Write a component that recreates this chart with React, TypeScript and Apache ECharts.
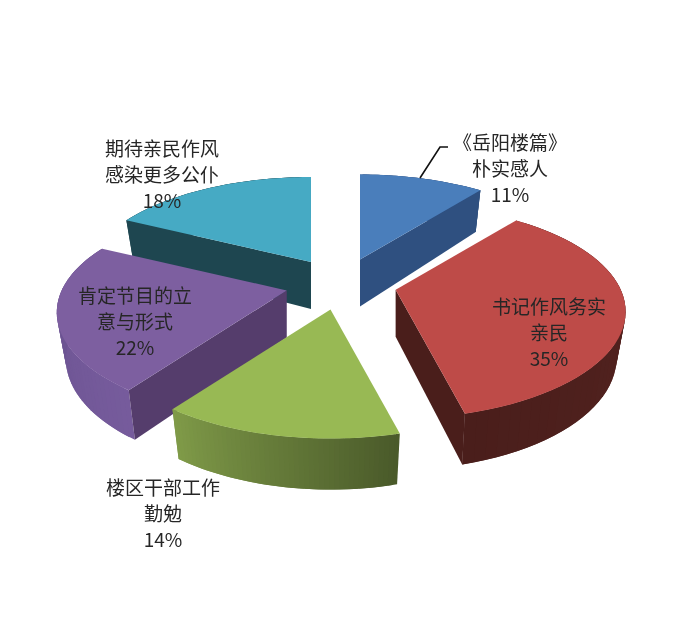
import React, { useEffect, useRef } from "react";
import * as echarts from "echarts";

const categories = ["《岳阳楼篇》\n朴实感人", "书记作风务实\n亲民", "楼区干部工作\n勤勉", "肯定节目的立\n意与形式", "期待亲民作风\n感染更多公仆"];
const shares = [11, 35, 14, 22, 18];

const topColors = ["#4a7ebb", "#be4b48", "#98b954", "#7d5fa0", "#46aac4"];
const sideColors = ["#2f5080", "#4a1e1b", "#4a5a2a", "#553d6c", "#1e4650"];
const rimColors = [
  ["#2f5080", "#2f5080"],
  ["#5a2623", "#4a1e1b"],
  ["#4a5a2a", "#7f9a48"],
  ["#765b9c", "#66508c"],
  ["#1e4650", "#1e4650"],
];
const paintOrder = [0, 4, 1, 3, 2];
const labelCenters = [
  [510, 167],
  [549, 331],
  [163, 512],
  [135, 320],
  [162, 173],
];

const CX = 341;
const CY = 284;
const EX = 56;
const EY = 26;
const TOP_RX = 230;
const TOP_RY = 107;
const TOP_DY = 22;
const BOTTOM_RX = 221;
const BOTTOM_RY = 112;
const BOTTOM_DY = 68;
const APEX_DEPTH = 47;

function warp(a: number) {
  return a - 0.22 * Math.sin(a);
}

function renderSlice(params: any, api: any) {
  const i = params.dataIndex;
  const total = shares.reduce((p, v) => p + v, 0);
  const before = shares.slice(0, i).reduce((p, v) => p + v, 0);
  const a0 = (before / total) * Math.PI * 2;
  const a1 = ((before + api.value(0)) / total) * Math.PI * 2;
  const mid = (a0 + a1) / 2;
  const ax = CX + EX * Math.sin(mid);
  const ay = CY - EY * Math.cos(mid);

  const steps = 48;
  const tops: number[][] = [];
  const bottoms: number[][] = [];
  for (let k = 0; k <= steps; k++) {
    const f = warp(a0 + ((a1 - a0) * k) / steps);
    const s = Math.sin(f);
    const c = Math.cos(f);
    tops.push([ax + TOP_RX * s, ay + TOP_DY - TOP_RY * c]);
    bottoms.push([ax + BOTTOM_RX * s, ay + BOTTOM_DY - BOTTOM_RY * c]);
  }
  const base = paintOrder.indexOf(i) * 10;
  const children: any[] = [];
  for (let k = 0; k < steps; k++) {
    const color = echarts.color.lerp(k / (steps - 1), rimColors[i]);
    // Each strip reaches over the next one so no seam shows between them.
    const next = Math.min(k + 2, steps);
    children.push({
      type: "polygon",
      z2: base,
      shape: { points: [tops[k], tops[next], bottoms[next], bottoms[k]] },
      style: { fill: color },
    });
  }
  const sideFace = (k: number, a: number, dir: number) => {
    if (Math.cos(a + (dir * Math.PI) / 2) > -0.01) return;
    children.push({
      type: "polygon",
      z2: base + 1,
      shape: { points: [[ax, ay], tops[k], bottoms[k], [ax, ay + APEX_DEPTH]] },
      style: { fill: sideColors[i] },
    });
  };
  sideFace(0, a0, -1);
  sideFace(steps, a1, 1);
  children.push({
    type: "polygon",
    z2: base + 2,
    shape: { points: [[ax, ay], ...tops] },
    style: { fill: topColors[i] },
  });
  return { type: "group", children };
}

export default function App() {
  const ref = useRef<HTMLDivElement>(null);
  useEffect(() => {
    document.body.style.margin = "0";
    const chart = echarts.init(ref.current!, undefined, { renderer: "svg" });
    chart.setOption({
      animation: false,
      backgroundColor: "#ffffff",
      series: [
        {
          type: "custom",
          coordinateSystem: "none",
          silent: true,
          renderItem: renderSlice,
          data: shares.map((v) => [v]),
        },
      ],
      graphic: [
        ...categories.map((name, i) => ({
          type: "text",
          z: 100,
          x: labelCenters[i][0],
          y: labelCenters[i][1],
          style: {
            text: `${name}\n${shares[i]}%`,
            fill: "#262626",
            font: '19px "Noto Sans CJK SC"',
            lineHeight: 26,
            align: "center",
            verticalAlign: "middle",
          },
        })),
        {
          type: "polyline",
          z: 100,
          shape: { points: [[420, 178], [440, 147], [448, 147]] },
          style: { stroke: "#111111", lineWidth: 1.6, fill: "none" },
        },
      ],
    });
    return () => chart.dispose();
  }, []);
  return (
    <div
      ref={ref}
      style={{ position: "absolute", left: 0, top: 0, width: 684, height: 627, filter: "blur(0.5px)" }}
    />
  );
}
